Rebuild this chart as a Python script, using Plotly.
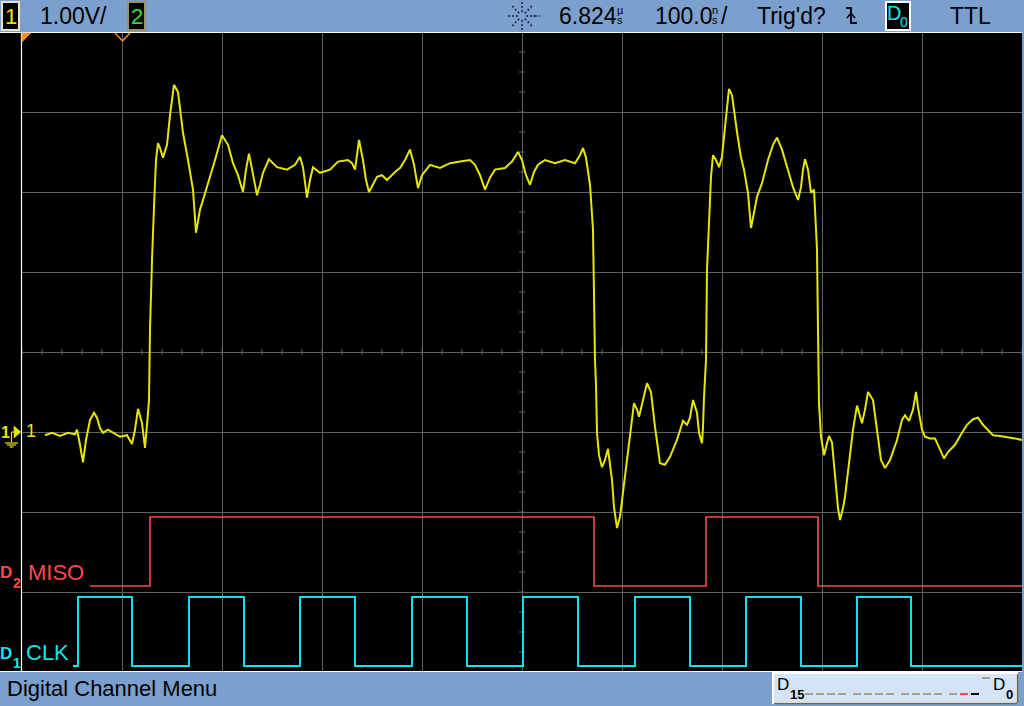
import math
import plotly.graph_objects as go

# ---------------- data ----------------
# Channel 1 analog trace: time in ns (0 = screen centre), volts (1.00 V/div)
ch1_time_ns = [-477, -470, -462, -454, -447, -445, -442, -439, -436, -432, -428, -425, -422, -419, -414, -409,
               -402, -395, -390, -387, -384, -380, -377, -374, -373, -372, -371, -370, -368, -366, -364, -362,
               -359, -355, -352, -348, -344, -342, -339, -334, -329, -326, -322, -318, -315, -311, -307, -300,
               -294, -289, -284, -279, -276, -273, -269, -265, -262, -259, -253, -245, -235, -227, -222, -219,
               -215, -212, -209, -202, -192, -184, -174, -170, -167, -163, -159, -156, -153, -149, -145, -140,
               -135, -127, -122, -117, -112, -108, -104, -100, -92, -82, -72, -62, -52, -47, -42, -37, -32,
               -27, -17, -10, -4, 0, 4, 8, 12, 16, 23, 33, 43, 53, 58, 61, 64, 68, 71, 73, 74, 75, 77, 80, 83,
               86, 87, 90, 92, 95, 98, 101, 105, 108, 112, 115, 117, 121, 125, 129, 133, 138, 143, 148, 155,
               161, 165, 168, 171, 175, 177, 180, 181, 182, 184, 185, 187, 189, 191, 194, 197, 200, 202, 205,
               207, 210, 212, 215, 219, 222, 226, 229, 232, 235, 240, 246, 251, 255, 260, 265, 271, 276, 279,
               281, 283, 286, 289, 292, 293, 295, 296, 297, 299, 302, 305, 307, 310, 313, 316, 318, 321, 323,
               326, 331, 335, 340, 343, 346, 351, 355, 359, 363, 368, 375, 380, 383, 387, 391, 394, 396, 400,
               403, 408, 413, 417, 422, 426, 433, 440, 445, 451, 456, 461, 466, 471, 478, 485, 493, 500]
ch1_volts = [-0.04, -0.01, -0.05, -0.01, -0.03, 0.03, -0.16, -0.38, -0.10, 0.15, 0.24, 0.18, 0.05, -0.01, 0.03,
             -0.01, -0.06, -0.04, -0.15, 0.03, 0.29, 0.11, -0.20, 0.24, 0.40, 1.28, 1.78, 2.15, 2.81, 3.40, 3.61,
             3.55, 3.43, 3.59, 3.96, 4.34, 4.25, 4.03, 3.74, 3.40, 3.03, 2.49, 2.78, 2.94, 3.06, 3.21, 3.40, 3.71,
             3.59, 3.36, 3.21, 3.00, 3.28, 3.48, 3.21, 2.96, 3.09, 3.24, 3.41, 3.31, 3.28, 3.34, 3.44, 3.31, 2.93,
             3.15, 3.31, 3.24, 3.28, 3.38, 3.40, 3.36, 3.28, 3.65, 3.40, 3.15, 3.00, 3.09, 3.19, 3.21, 3.15, 3.25,
             3.30, 3.40, 3.53, 3.34, 3.05, 3.21, 3.34, 3.30, 3.36, 3.38, 3.40, 3.34, 3.21, 3.03, 3.18, 3.28, 3.30,
             3.38, 3.50, 3.40, 3.21, 3.09, 3.25, 3.34, 3.40, 3.36, 3.40, 3.36, 3.46, 3.55, 3.43, 3.09, 2.53, 0.90,
             0.59, -0.01, -0.29, -0.44, -0.35, -0.21, -0.31, -0.60, -0.94, -1.20, -1.06, -0.76, -0.35, -0.06, 0.36,
             0.28, 0.19, 0.40, 0.61, 0.50, 0.06, -0.39, -0.41, -0.31, -0.10, 0.14, 0.09, 0.18, 0.40, 0.24, -0.01,
             -0.14, 0.06, 0.43, 0.90, 2.03, 2.53, 3.19, 3.46, 3.40, 3.31, 3.44, 3.69, 4.11, 4.29, 4.21, 4.00, 3.75,
             3.43, 3.28, 2.99, 2.55, 2.74, 2.94, 3.11, 3.40, 3.59, 3.68, 3.53, 3.31, 3.06, 2.90, 3.06, 3.28, 3.41,
             3.28, 2.99, 3.03, 2.81, 2.28, 1.28, 0.36, -0.06, -0.29, -0.14, -0.05, -0.13, -0.56, -0.95, -1.10,
             -0.95, -0.81, -0.48, 0.03, 0.33, 0.11, 0.28, 0.50, 0.40, 0.03, -0.35, -0.45, -0.35, -0.10, 0.15, 0.21,
             0.14, 0.28, 0.50, 0.31, 0.03, -0.06, -0.08, -0.08, -0.20, -0.33, -0.25, -0.16, -0.01, 0.09, 0.16,
             0.18, 0.09, 0.03, -0.04, -0.05, -0.06, -0.08, -0.10]

# Digital channels: logic level changes (time in ns, level 0/1)
miso_time_ns = [-432, -372, 72, 184, 296, 500]
miso_level = [0, 1, 0, 1, 0, 0]
clk_time_ns = [-449, -444, -390, -333, -278, -222, -167, -110, -55, 1, 56, 113, 168, 224, 279, 335, 389, 500]
clk_level = [0, 1, 0, 1, 0, 1, 0, 1, 0, 1, 0, 1, 0, 1, 0, 1, 0, 0]

# Status-line labels
volts_per_div = "1.00V/"
time_pos = "6.824"
time_per_div = "100.0"
trig_state = "Trig'd?"
trig_level = "TTL"
menu_title = "Digital Channel Menu"
d2_name = "MISO"
d1_name = "CLK"

# ---------------- layout helpers ----------------
W, H = 1024, 706
L, R, T, B = 22, 2, 32, 34
FONT = "Liberation Sans, Arial, sans-serif"
BAR = "#7ba0cd"
YEL = "#e6e600"
RED = "#ff4848"
CYAN = "#10e4ea"
GRID = "#606060"
ORANGE = "#ff8c1e"


def px(x):
    return (x - L) / (W - L - R)


def py(y):
    return (H - B - y) / (H - T - B)


shapes = []
annots = []


def rect(x0, y0, x1, y1, fill, line=None, lw=0, layer="above"):
    shapes.append(dict(type="rect", xref="paper", yref="paper", x0=px(x0), x1=px(x1), y0=py(y1), y1=py(y0),
                       fillcolor=fill, line=dict(color=line or fill, width=lw), layer=layer))


def seg(x0, y0, x1, y1, color, lw=1, layer="above"):
    shapes.append(dict(type="line", xref="paper", yref="paper", x0=px(x0), x1=px(x1), y0=py(y0), y1=py(y1),
                       line=dict(color=color, width=lw), layer=layer))


def poly(pts, color, fill=None, lw=1.2, closed=True):
    d = "M " + " L ".join(f"{px(a):.5f},{py(b):.5f}" for a, b in pts)
    if closed:
        d += " Z"
    shapes.append(dict(type="path", xref="paper", yref="paper", path=d,
                       fillcolor=fill if fill else "rgba(0,0,0,0)", line=dict(color=color, width=lw),
                       layer="above"))


def dot(x, y, r, color):
    shapes.append(dict(type="circle", xref="paper", yref="paper", x0=px(x - r), x1=px(x + r),
                       y0=py(y + r), y1=py(y - r), fillcolor=color, line=dict(width=0), layer="above"))


def text(s, x, y, size, color="#000000", xanchor="center", family=FONT):
    annots.append(dict(text=s, xref="paper", yref="paper", x=px(x), y=py(y), xanchor=xanchor,
                       yanchor="middle", showarrow=False, borderpad=0,
                       font=dict(family=family, size=size, color=color)))


# screen background and frame
rect(0, 32, 1022, 672, "#000000", layer="below")

fig = go.Figure()
fig.add_trace(go.Scatter(x=ch1_time_ns, y=ch1_volts, mode="lines", line=dict(color=YEL, width=2),
                         hoverinfo="skip", showlegend=False))
fig.add_trace(go.Scatter(x=miso_time_ns, y=miso_level, yaxis="y2", mode="lines", line_shape="hv",
                         line=dict(color=RED, width=1.6), hoverinfo="skip", showlegend=False))
fig.add_trace(go.Scatter(x=clk_time_ns, y=clk_level, yaxis="y3", mode="lines", line_shape="hv",
                         line=dict(color=CYAN, width=2), hoverinfo="skip", showlegend=False))

# centre-axis minor ticks
for k in range(-25, 26):
    t = k * 20
    shapes.append(dict(type="line", xref="x", yref="y", x0=t, x1=t, y0=1 - 0.04, y1=1 + 0.04,
                       line=dict(color=GRID, width=1), layer="between"))
for k in range(-12, 21):
    v = k * 0.25
    shapes.append(dict(type="line", xref="x", yref="y", x0=-3, x1=3, y0=v, y1=v,
                       line=dict(color=GRID, width=1), layer="between"))

# white frame lines
seg(21.5, 32, 21.5, 672, "#ffffff", 1.2)
seg(0, 32.5, 1022, 32.5, "#ffffff", 1.2)
seg(0, 671.5, 1022, 671.5, "#ffffff", 1.2)

# orange markers
poly([(22, 33), (31, 33), (22, 42)], ORANGE, fill=ORANGE, lw=0.5)
poly([(115, 33), (122.5, 41), (130, 33)], ORANGE, lw=1.5, closed=False)

# ---------------- top status bar ----------------
rect(2, 2, 19, 30, "#000000", "#e8e2c8", 2)
text("1", 10.5, 16, 22, YEL)
text(volts_per_div, 73, 16, 23)
rect(128, 2, 145, 30, "#000000", "#9a9268", 2)
text("2", 136.5, 16, 22, "#30e030")

# acquisition sunburst icon
for k in range(8):
    ang = k * math.pi / 4
    for r in (5, 9, 13):
        dot(522 + r * math.cos(ang), 16 + r * math.sin(ang), 1.0, "#1c2230")
for xx in (534, 537, 540):
    dot(xx, 16, 0.8, "#1c2230")

text(time_pos, 588, 16, 23)
text("µ", 620, 10, 11)
text("s", 620, 20, 11)
text(time_per_div, 684, 16, 23)
text("n", 714.5, 10, 11)
text("s", 714.5, 20, 11)
text("/", 724, 16, 23)
text(trig_state, 791, 16, 23)
# falling-edge trigger symbol
poly([(846, 8), (851, 8), (851, 23), (857, 23)], "#000000", lw=1.8, closed=False)
poly([(847, 18), (851, 13), (855, 18)], "#000000", lw=1.5, closed=False)
rect(886, 2, 910, 30, "#000000", "#ffffff", 2)
text("D", 893.5, 13, 20, CYAN)
text("0", 903.5, 21.5, 14, CYAN)
text(trig_level, 970, 16, 23)

# ---------------- bottom status bar ----------------
text(menu_title, 6, 688, 22, xanchor="left")
rect(773, 673, 1017, 703, "#d4e3f6", "#ffffff", 2)
seg(774, 703.5, 1017, 703.5, "#6e6846", 1.5)
seg(1017.5, 674, 1017.5, 703.5, "#6e6846", 1.5)
text("D", 776, 684, 17, xanchor="left")
text("<b>15</b>", 788.5, 694, 13, xanchor="left")
for g in range(4):
    for k in range(4):
        x0 = 805 + g * 48 + k * 11
        col, yy = "#a8a288", 694
        if g == 3 and k == 1:
            col = RED
        elif g == 3 and k == 2:
            col = "#000000"
        elif g == 3 and k == 3:
            yy = 678
        seg(x0, yy, x0 + 8, yy, col, 2)
text("D", 992, 684, 17, xanchor="left")
text("<b>0</b>", 1005, 694, 13, xanchor="left")

# ---------------- left-side channel labels ----------------
text("<b>1</b>", 5.5, 432, 16, YEL)
poly([(14, 426), (21, 432), (14, 438)], YEL, fill=YEL, lw=0.5)
seg(11.5, 432, 14, 432, YEL, 1.2)
seg(11.5, 432, 11.5, 442, YEL, 1.2)
seg(5, 443, 18, 443, YEL, 1.2)
seg(7, 445, 16, 445, YEL, 1.2)
seg(9.5, 447, 13.5, 447, YEL, 1.2)
text("1", 31, 431, 18, YEL)

text("<b>D</b>", -1, 572, 17, RED, xanchor="left")
text("<b>2</b>", 11.5, 583, 14, RED, xanchor="left")
text(d2_name, 55.5, 572.5, 22, RED)
text("<b>D</b>", -1, 653, 17, CYAN, xanchor="left")
text("<b>1</b>", 11.5, 663, 14, CYAN, xanchor="left")
text(d1_name, 47, 652.5, 22, CYAN)

# ---------------- axes ----------------
fig.update_layout(
    width=W, height=H,
    margin=dict(l=L, r=R, t=T, b=B, pad=0),
    paper_bgcolor=BAR, plot_bgcolor="rgba(0,0,0,0)",
    xaxis=dict(range=[-500, 500], tickvals=list(range(-500, 501, 100)), showticklabels=False, ticks="",
               showgrid=True, gridcolor=GRID, gridwidth=1, zeroline=False, showline=False, fixedrange=True),
    yaxis=dict(range=[-3, 5], tickvals=list(range(-3, 6)), showticklabels=False, ticks="",
               showgrid=True, gridcolor=GRID, gridwidth=1, zeroline=False, showline=False, fixedrange=True),
    yaxis2=dict(domain=[0.1236, 0.2530], range=[-0.1, 1.1], anchor="x", visible=False, showgrid=False,
                zeroline=False, fixedrange=True),
    yaxis3=dict(domain=[0.004, 0.128], range=[-0.05, 1.1], anchor="x", visible=False, showgrid=False,
                zeroline=False, fixedrange=True),
    shapes=shapes, annotations=annots, showlegend=False,
)

fig.write_html("out.html", config={"displayModeBar": False},
               post_script="document.body.style.margin='0';document.body.style.padding='0';"
                           "document.body.style.overflow='hidden';")
